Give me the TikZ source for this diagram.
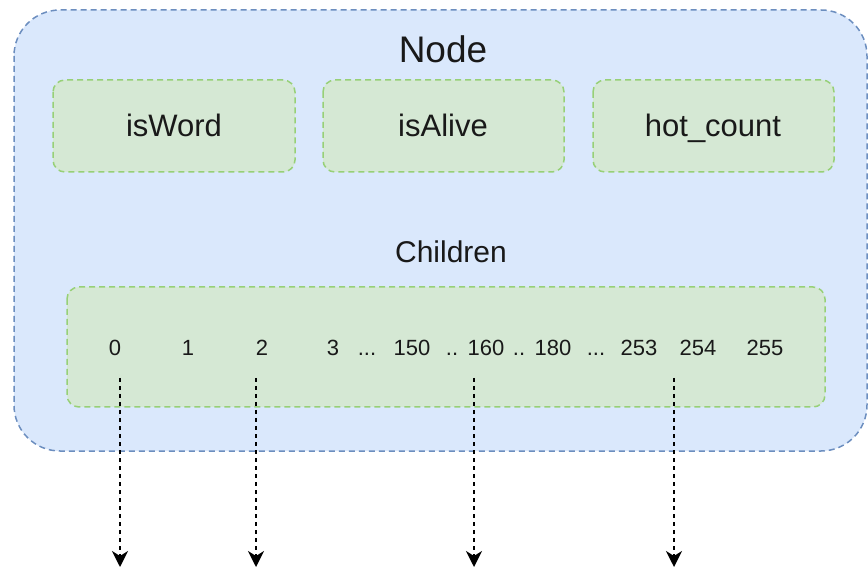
\documentclass[tikz,border=0pt]{standalone}
\usepackage{fontspec}
\setmainfont{Liberation Sans}
\usetikzlibrary{arrows.meta}
\definecolor{outerfill}{HTML}{DAE8FC}
\definecolor{outerline}{HTML}{6C8EBF}
\definecolor{innerfill}{HTML}{D5E8D4}
\definecolor{innerline}{HTML}{97D077}
\begin{document}
\begin{tikzpicture}[x=1pt,y=-1pt,
  outerbox/.style={draw=outerline,fill=outerfill,line width=1.5pt,dash pattern=on 6pt off 4pt,rounded corners=46pt},
  fieldbox/.style={draw=innerline,fill=innerfill,line width=1.5pt,dash pattern=on 6pt off 4pt,rounded corners=12pt},
  lbl/.style={anchor=base,inner sep=0pt,text=black!90},
  num/.style={lbl,font=\fontsize{22}{26}\selectfont},
  ptr/.style={draw=black,line width=1.6pt,dash pattern=on 4pt off 4pt,-{Stealth[length=16pt,width=16pt,inset=5pt]}}
]
\useasboundingbox (0,0) rectangle (868,569);
\path[outerbox] (14,10) rectangle (867,451);
\node[lbl,font=\fontsize{37}{44}\selectfont] (title) at (443,63) {Node};
\path[fieldbox] (53,80) rectangle (295,172);
\path[fieldbox] (323,80) rectangle (564,172);
\path[fieldbox] (593,80) rectangle (834,172);
\node[lbl,font=\fontsize{31}{37}\selectfont] (isword) at (174,137) {isWord};
\node[lbl,font=\fontsize{31}{37}\selectfont] (isalive) at (443,137) {isAlive};
\node[lbl,font=\fontsize{31}{37}\selectfont] (hotcount) at (713,137) {hot\_count};
\node[lbl,font=\fontsize{30}{36}\selectfont] (children) at (451,263) {Children};
\path[fieldbox] (67,287) rectangle (825,407);
\node[num] (n0) at (115,356) {0};
\node[num] (n1) at (188,356) {1};
\node[num] (n2) at (262,356) {2};
\node[num] (n3) at (333,356) {3};
\node[num] (d1) at (367,356) {...};
\node[num] (n150) at (412,356) {150};
\node[num] (d2) at (452,356) {..};
\node[num] (n160) at (486,356) {160};
\node[num] (d3) at (519,356) {..};
\node[num] (n180) at (553,356) {180};
\node[num] (d4) at (596,356) {...};
\node[num] (n253) at (639,356) {253};
\node[num] (n254) at (698,356) {254};
\node[num] (n255) at (765,356) {255};
\foreach \k/\x in {a/120,b/256,c/474,d/674}{
  \coordinate (\k s) at (\x,378);
  \coordinate (\k e) at (\x,567);
  \draw[ptr] (\k s) -- (\k e);
}
\end{tikzpicture}
\end{document}
